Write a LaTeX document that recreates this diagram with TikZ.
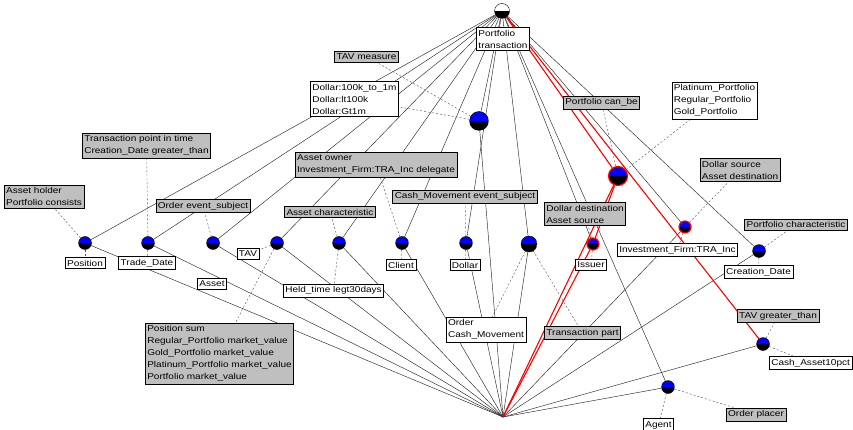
\documentclass[tikz,border=0pt]{standalone}
\usepackage{fontspec}
\setmainfont{Liberation Sans}[FakeStretch=1.18]
\usetikzlibrary{backgrounds}

\begin{document}
\begin{tikzpicture}[x=1pt,y=-1pt,font=\fontsize{8.5}{12}\selectfont]
        % Setup the styles for the balls and boxes
        \tikzset{ball/.style={circle, draw=black, line width=0.4pt,
                              inner sep=0pt, minimum size=#1,
                              path picture={\fill[blue] (path picture bounding box.north west) rectangle (path picture bounding box.east);
                                            \fill[black] (path picture bounding box.west) rectangle (path picture bounding box.south east);}},
                 redball/.style={ball=#1, draw=red, line width=1.2pt},
                 rootball/.style={circle, draw=black, fill=white, inner sep=0pt,
                                  minimum size=15,
                                  path picture={\fill[black] (path picture bounding box.west) rectangle (path picture bounding box.south east);}},
                 rolebox/.style={draw=black, fill=gray!50, inner xsep=2pt,
                                 inner ysep=2.5pt, align=left, line width=0.6pt},
                 playerbox/.style={draw=black, fill=white, inner xsep=2pt,
                                   inner ysep=2.5pt, align=left, line width=0.6pt},
                 roleline/.style={dash pattern=on 2pt off 2pt, draw=black!70},
                 link/.style={draw=black!85, line width=0.45pt},
                 redlink/.style={draw=red, line width=1.1pt}}

        \useasboundingbox (0,0) rectangle (853,430);

        % Draw the root and the sink
        \node[rootball] at (502, 11) (root) {};
        \coordinate (sink) at (503, 417);

        % Draw the balls
        \node[ball=13] at (85, 243)   (pos)       {};
        \node[ball=13] at (148, 243)  (trade)     {};
        \node[ball=13] at (213, 243)  (ordevt)    {};
        \node[ball=13] at (277, 243)  (tav)       {};
        \node[ball=13] at (339, 243)  (assetch)   {};
        \node[ball=13] at (402, 243)  (client)    {};
        \node[ball=13] at (466, 243)  (dollar)    {};
        \node[ball=16] at (529, 244)  (transpart) {};
        \node[redball=12] at (593, 244) (issuer)  {};
        \node[redball=19] at (618, 176) (canbe)   {};
        \node[redball=12] at (685, 227) (dolsrc)  {};
        \node[ball=19] at (479, 121)  (tavm)      {};
        \node[ball=13] at (759, 251)  (portch)    {};
        \node[ball=13] at (763, 344)  (tavgt)     {};
        \node[ball=13] at (668, 387)  (placer)    {};

        % Draw the role boxes
        \node[rolebox] at (366.5, 56.5) (tavmbox)      {TAV measure};
        \node[rolebox] at (44, 196.5)   (holderbox)    {Asset holder\\Portfolio consists};
        \node[rolebox] at (146.5, 145.5) (pointbox)    {Transaction point in time\\Creation\_Date greater\_than};
        \node[rolebox] at (203, 206)    (ordevtbox)    {Order event\_subject};
        \node[rolebox] at (330, 212)    (assetchbox)   {Asset characteristic};
        \node[rolebox] at (376, 164.5)  (ownerbox)     {Asset owner\\Investment\_Firm:TRA\_Inc delegate};
        \node[rolebox] at (465, 196.5)  (cashevtbox)   {Cash\_Movement event\_subject};
        \node[rolebox] at (601.5, 102.5) (canbebox)    {Portfolio can\_be};
        \node[rolebox] at (740, 170)    (dolsrcbox)    {Dollar source\\Asset destination};
        \node[rolebox] at (585, 214)    (doldestbox)   {Dollar destination\\Asset source};
        \node[rolebox] at (796, 224.5)  (portchbox)    {Portfolio characteristic};
        \node[rolebox] at (219.5, 353.5) (sumbox)      {Position sum\\Regular\_Portfolio market\_value\\Gold\_Portfolio market\_value\\Platinum\_Portfolio market\_value\\Portfolio market\_value};
        \node[rolebox] at (582.5, 333)  (transpartbox) {Transaction part};
        \node[rolebox] at (778, 316)    (tavgtbox)     {TAV greater\_than};
        \node[rolebox] at (756, 414.5)  (placerbox)    {Order placer};

        % Draw the player boxes
        \node[playerbox] at (503, 39)   (portbox)    {Portfolio\\transaction};
        \node[playerbox] at (354.5, 99) (amountbox)  {Dollar:100k\_to\_1m\\Dollar:lt100k\\Dollar:Gt1m};
        \node[playerbox] at (714.5, 100.5) (kindbox) {Platinum\_Portfolio\\Regular\_Portfolio\\Gold\_Portfolio};
        \node[playerbox] at (677.5, 250) (firmbox)   {Investment\_Firm:TRA\_Inc};
        \node[playerbox] at (85, 263)   (posbox)     {Position};
        \node[playerbox] at (147, 263)  (tradebox)   {Trade\_Date};
        \node[playerbox] at (248, 254)  (tavbox)     {TAV};
        \node[playerbox] at (212, 284)  (assetbox)   {Asset};
        \node[playerbox] at (333.5, 290.5) (heldbox) {Held\_time legt30days};
        \node[playerbox] at (401, 265)  (clientbox)  {Client};
        \node[playerbox] at (465, 265)  (dollarbox)  {Dollar};
        \node[playerbox] at (486, 329.5) (orderbox)  {Order\\Cash\_Movement};
        \node[playerbox] at (591, 265)  (issuerbox)  {Issuer};
        \node[playerbox] at (758.5, 272) (creatbox)  {Creation\_Date};
        \node[playerbox, anchor=west] at (769, 363) (cashbox) {Cash\_Asset10pct};
        \node[playerbox] at (658.5, 425) (agentbox)  {Agent};

        % Connect the balls with lines
        \begin{scope}[on background layer]
        \draw[link]
            (root) edge (pos)    (root) edge (trade)   (root) edge (ordevt)
            (root) edge (tav)    (root) edge (assetch) (root) edge (client)
            (root) edge (dollar) (root) edge (transpart) (root) edge (tavm)
            (root) edge (issuer) (root) edge (dolsrc)  (root) edge (portch)
            (root) edge (placer)
            (pos) edge (sink)    (trade) edge (sink)   (ordevt) edge (sink)
            (tav) edge (sink)    (assetch) edge (sink) (client) edge (sink)
            (dollar) edge (sink) (transpart) edge (sink) (tavm) edge (sink)
            (dolsrc) edge (sink) (portch) edge (sink)  (tavgt) edge (sink)
            (placer) edge (sink);
        \draw[redlink]
            (root) edge (canbe)  (root) edge (tavgt)
            (canbe) edge (issuer) (canbe) edge (sink)
            (issuer) edge (sink);
        \draw[roleline]
            (pos) edge (holderbox)      (pos) edge (posbox)
            (trade) edge (pointbox)     (trade) edge (tradebox)
            (ordevt) edge (ordevtbox)
            (tav) edge (tavbox)         (tav) edge (sumbox)
            (assetch) edge (assetchbox) (assetch) edge (heldbox)
            (client) edge (ownerbox)    (client) edge (clientbox)
            (dollar) edge (cashevtbox)  (dollar) edge (dollarbox)
            (transpart) edge (orderbox) (transpart) edge (transpartbox)
            (issuer) edge (doldestbox)  (issuer) edge (issuerbox)
            (canbe) edge (canbebox)     (canbe) edge (kindbox)
            (dolsrc) edge (dolsrcbox)   (dolsrc) edge (firmbox)
            (tavm) edge (tavmbox)       (tavm) edge (amountbox)
            (portch) edge (portchbox)   (portch) edge (creatbox)
            (tavgt) edge (tavgtbox)     (tavgt) edge (cashbox)
            (placer) edge (placerbox)   (placer) edge (agentbox);
        \end{scope}
\end{tikzpicture}
\end{document}
